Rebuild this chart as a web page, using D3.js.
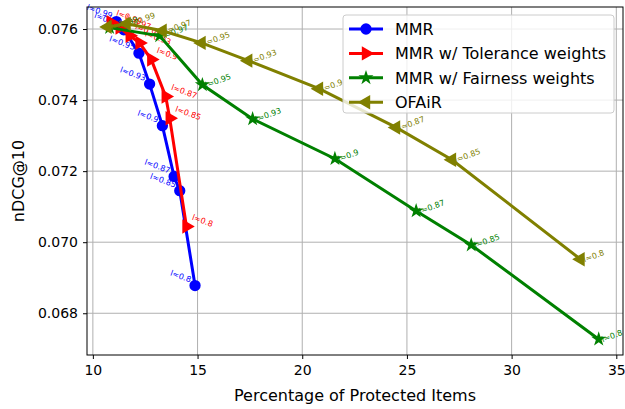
<!DOCTYPE html>
<meta charset="utf-8">
<style>
  body { margin: 0; background: #fff; }
  text { font-family: "DejaVu Sans", sans-serif; }
</style>
<body>
<script src="https://cdn.jsdelivr.net/npm/d3@7"></script>
<script>

var width = 625,
    height = 409;

// the four methods, left to right as in the legend
var seriesNames = ["MMR", "MMR w/ Tolerance weights", "MMR w/ Fairness weights", "OFAiR"];
var seriesColors = ["#0000ff", "#ff0000", "#008000", "#808000"];

// percentage of protected items (x) and nDCG@10 (y)
var mmrX = [11.12, 11.48, 12.20, 12.71, 13.32, 13.88, 14.15, 14.88];
var mmrY = [0.07621, 0.07598, 0.07532, 0.07445, 0.07328, 0.07185, 0.07145, 0.06878];
var mmrL = ["l≈0.99", "l≈0.97", "l≈0.95", "l≈0.93", "l≈0.9", "l≈0.87", "l≈0.85", "l≈0.8"];

var tolX = [10.85, 11.28, 11.76, 12.23, 12.79, 13.48, 13.67, 14.47];
var tolY = [0.07619, 0.07604, 0.07581, 0.07561, 0.07514, 0.07410, 0.07349, 0.07044];
var tolL = ["l≈0.99", "l≈0.97", "l≈0.95", "l≈0.93", "l≈0.9", "l≈0.87", "l≈0.85", "l≈0.8"];

var fairX = [10.80, 13.19, 15.23, 17.63, 21.56, 25.44, 28.07, 34.16];
var fairY = [0.07604, 0.07581, 0.07443, 0.07347, 0.07235, 0.07088, 0.06992, 0.06727];
var fairL = ["l≈0.99", "l≈0.97", "l≈0.95", "l≈0.93", "l≈0.9", "l≈0.87", "l≈0.85", "l≈0.8"];

var ofairX = [10.70, 11.61, 13.33, 15.19, 17.42, 20.80, 24.48, 27.15, 33.29];
var ofairY = [0.07606, 0.07615, 0.07595, 0.07561, 0.07511, 0.07432, 0.07323, 0.07232, 0.06952];
var ofairL = ["l≈1.0", "l≈0.99", "l≈0.97", "l≈0.95", "l≈0.93", "l≈0.9", "l≈0.87", "l≈0.85", "l≈0.8"];

var xTicks = [10, 15, 20, 25, 30, 35];
var yTicks = [0.068, 0.070, 0.072, 0.074, 0.076];

var margin = {top: 7, right: 2, bottom: 54, left: 87};

var x = d3.scaleLinear().domain([9.72, 35.32]).range([margin.left, width - margin.right]);
var y = d3.scaleLinear().domain([0.066825, 0.07662]).range([height - margin.bottom, margin.top]);

var svg = d3.select("body").append("svg")
    .attr("width", width)
    .attr("height", height);

// grid
svg.append("g")
  .selectAll("line.gx")
  .data(xTicks)
  .enter().append("line")
    .attr("x1", d => x(d)).attr("x2", d => x(d))
    .attr("y1", margin.top).attr("y2", height - margin.bottom)
    .attr("stroke", "#b0b0b0").attr("stroke-width", 1);
svg.append("g")
  .selectAll("line.gy")
  .data(yTicks)
  .enter().append("line")
    .attr("x1", margin.left).attr("x2", width - margin.right)
    .attr("y1", d => y(d)).attr("y2", d => y(d))
    .attr("stroke", "#b0b0b0").attr("stroke-width", 1);

var xAxis = svg.append("g")
    .attr("transform", "translate(0," + (height - margin.bottom) + ")")
    .call(d3.axisBottom(x).tickValues(xTicks).tickSize(4).tickPadding(6).tickFormat(d3.format("d")));
var yAxis = svg.append("g")
    .attr("transform", "translate(" + margin.left + ",0)")
    .call(d3.axisLeft(y).tickValues(yTicks).tickSize(4).tickPadding(5).tickFormat(d3.format(".3f")));

[xAxis, yAxis].forEach(function(g) {
  g.select(".domain").remove();
  g.selectAll("text").attr("font-size", 14).attr("fill", "#000")
    .attr("font-family", "DejaVu Sans, sans-serif");
  g.selectAll("line").attr("stroke", "#000");
});

svg.append("text")
    .attr("x", 355)
    .attr("y", 401)
    .attr("text-anchor", "middle")
    .attr("font-size", 16)
    .text("Percentage of Protected Items");

svg.append("text")
    .attr("transform", "translate(24," + ((margin.top + height - margin.bottom) / 2) + ") rotate(-90)")
    .attr("text-anchor", "middle")
    .attr("font-size", 16)
    .text("nDCG@10");

var line = d3.line().x(d => x(d[0])).y(d => y(d[1]));

function zip(xs, ys, ls) {
  return xs.map(function(v, i) { return [v, ys[i], ls[i]]; });
}

var series = [
  {pts: zip(mmrX, mmrY, mmrL), shape: d3.symbolCircle, size: 100, rot: 0, lab: "left"},
  {pts: zip(tolX, tolY, tolL), shape: d3.symbolTriangle, size: 90, rot: 90, lab: "right"},
  {pts: zip(fairX, fairY, fairL), shape: d3.symbolStar, size: 70, rot: 0, lab: "up"},
  {pts: zip(ofairX, ofairY, ofairL), shape: d3.symbolTriangle, size: 90, rot: -90, lab: "up"}
];

series.forEach(function(s, i) {
  var c = seriesColors[i];
  var g = svg.append("g");
  g.append("path")
      .datum(s.pts)
      .attr("d", line)
      .attr("fill", "none")
      .attr("stroke", c)
      .attr("stroke-width", 3);
  g.selectAll("path.m")
    .data(s.pts)
    .enter().append("path")
      .attr("d", d3.symbol().type(s.shape).size(s.size))
      .attr("transform", d => "translate(" + x(d[0]) + "," + y(d[1]) + ") rotate(" + s.rot + ")")
      .attr("fill", c);
  g.selectAll("text")
    .data(s.pts)
    .enter().append("text")
      .attr("font-size", 8)
      .attr("fill", c)
      .attr("text-anchor", s.lab == "left" ? "end" : "start")
      .attr("transform", function(d) {
        var px = x(d[0]), py = y(d[1]);
        if (s.lab == "left") return "translate(" + (px - 5) + "," + (py - 3) + ") rotate(20)";
        if (s.lab == "right") return "translate(" + (px + 5) + "," + (py - 7) + ") rotate(20)";
        return "translate(" + (px + 4) + "," + (py + 3) + ") rotate(-20)";
      })
      .text(d => d[2]);
});

// frame
svg.append("rect")
    .attr("x", margin.left).attr("y", margin.top)
    .attr("width", width - margin.right - margin.left)
    .attr("height", height - margin.bottom - margin.top)
    .attr("fill", "none").attr("stroke", "#000").attr("stroke-width", 1);

// legend
var legend = svg.append("g").attr("transform", "translate(343,15)");
legend.append("rect")
    .attr("width", 271).attr("height", 98)
    .attr("rx", 3)
    .attr("fill", "#fff").attr("fill-opacity", 0.8)
    .attr("stroke", "#cccccc");

series.forEach(function(s, i) {
  var ly = 14 + i * 24.4;
  var row = legend.append("g").attr("transform", "translate(0," + ly + ")");
  row.append("line")
      .attr("x1", 6).attr("x2", 40)
      .attr("stroke", seriesColors[i]).attr("stroke-width", 3);
  row.append("path")
      .attr("d", d3.symbol().type(s.shape).size(s.size))
      .attr("transform", "translate(23,0) rotate(" + s.rot + ")")
      .attr("fill", seriesColors[i]);
  row.append("text")
      .attr("x", 52).attr("y", 6)
      .attr("font-size", 16)
      .text(seriesNames[i]);
});

</script>
